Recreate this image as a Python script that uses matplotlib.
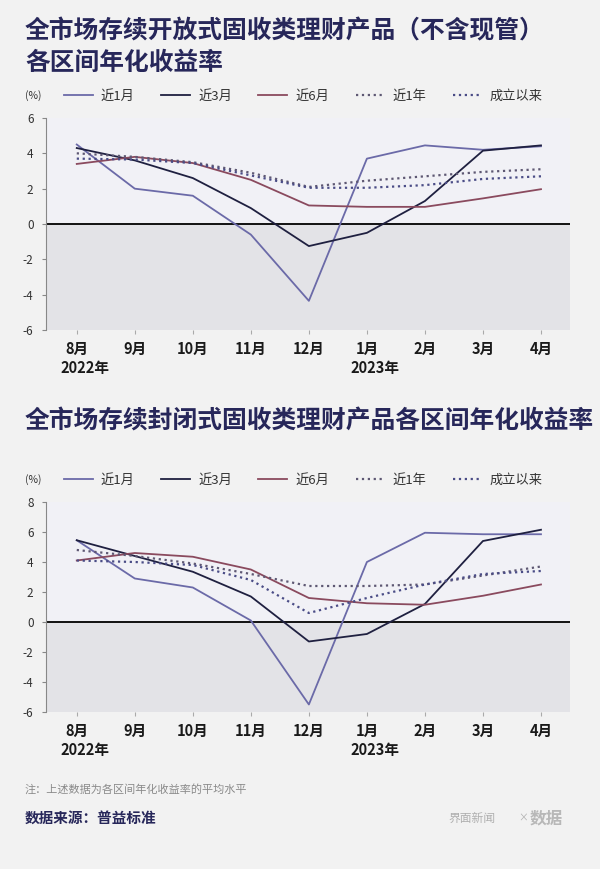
import matplotlib
matplotlib.use("Agg")
import matplotlib.pyplot as plt
import matplotlib.transforms as mtransforms

plt.rcParams['font.family'] = ['Noto Sans CJK SC', 'DejaVu Sans']

months = ['8月', '9月', '10月', '11月', '12月', '1月', '2月', '3月', '4月']
years = {0: '2022年', 5: '2023年'}
series_names = ['近1月', '近3月', '近6月', '近1年', '成立以来']

# open-ended products
open_1m = [4.5, 2.0, 1.6, -0.6, -4.35, 3.7, 4.45, 4.2, 4.4]
open_3m = [4.3, 3.6, 2.6, 0.9, -1.25, -0.5, 1.3, 4.15, 4.45]
open_6m = [3.4, 3.8, 3.45, 2.5, 1.05, 0.97, 0.97, 1.45, 1.97]
open_1y = [4.0, 3.8, 3.5, 2.9, 2.1, 2.45, 2.7, 2.95, 3.1]
open_all = [3.7, 3.65, 3.45, 2.75, 2.05, 2.05, 2.2, 2.55, 2.7]

# closed-ended products
closed_1m = [5.45, 2.9, 2.3, 0.1, -5.5, 4.0, 5.95, 5.85, 5.85]
closed_3m = [5.45, 4.4, 3.35, 1.7, -1.3, -0.8, 1.2, 5.4, 6.15]
closed_6m = [4.1, 4.6, 4.35, 3.5, 1.6, 1.25, 1.15, 1.75, 2.5]
closed_1y = [4.8, 4.4, 3.9, 3.2, 2.4, 2.4, 2.5, 3.1, 3.7]
closed_all = [4.1, 4.0, 3.8, 2.8, 0.6, 1.6, 2.5, 3.2, 3.4]

colors = ['#6b6aa8', '#1f2040', '#8a4a5e', '#5e5873', '#4a4c86']
styles = ['-', '-', '-', ':', ':']

BG = '#f2f2f2'
NAVY = '#27275a'

fig = plt.figure(figsize=(6, 8.69), dpi=100, facecolor=BG)


def draw_panel(rect, data, ylim, yticks, legend_y):
    ax = fig.add_axes(rect)
    ax.set_facecolor('#f1f1f6')
    x = list(range(len(months)))
    ax.axhspan(ylim[0], 0, color='#e3e3e7', zorder=0, lw=0)
    ax.axhline(0, color='#111111', lw=1.4, zorder=1)
    handles = []
    for vals, c, ls, name in zip(data, colors, styles, series_names):
        h, = ax.plot(x, vals, color=c, ls=ls, lw=1.3 if ls == '-' else 1.6,
                     label=name, zorder=3)
        handles.append(h)
    ax.set_xlim(-0.53, 8.5)
    ax.set_ylim(*ylim)
    ax.set_yticks(yticks)
    ax.set_yticklabels([str(v) for v in yticks], fontsize=8.5, color='#333333')
    ax.set_xticks(x)
    ax.set_xticklabels(months, fontsize=10.5, color='#1a1a1a', fontweight='bold')
    ax.tick_params(axis='y', length=3, color='#888888', pad=6)
    ax.tick_params(axis='x', length=3, color='#aaaaaa', pad=5)
    for s in ['top', 'right', 'bottom']:
        ax.spines[s].set_visible(False)
    ax.spines['left'].set_color('#888888')
    ax.spines['left'].set_linewidth(0.8)
    trans = mtransforms.blended_transform_factory(ax.transData, ax.transAxes)
    for i, y in years.items():
        ax.annotate(y, xy=(i, 0), xycoords=trans, xytext=(-12, -27),
                    textcoords='offset points', fontsize=10.5, fontweight='bold',
                    color='#1a1a1a', ha='left', va='center')
    fig.text(25 / 600, legend_y, '(%)', fontsize=7.5, color='#333333', va='center')
    fig.legend(handles=handles, loc='center left',
               bbox_to_anchor=(52 / 600, legend_y), ncol=5, frameon=False,
               fontsize=9.5, handlelength=2.2, handletextpad=0.6,
               columnspacing=2.0, labelcolor='#333333')
    return ax


# panel 1
fig.text(25 / 600, 1 - 31 / 869, '全市场存续开放式固收类理财产品（不含现管）',
         fontsize=17.8, fontweight='bold', color=NAVY, va='center')
fig.text(25 / 600, 1 - 63 / 869, '各区间年化收益率',
         fontsize=17.8, fontweight='bold', color=NAVY, va='center')
draw_panel([46 / 600, 1 - 330 / 869, 524 / 600, 212 / 869],
           [open_1m, open_3m, open_6m, open_1y, open_all],
           (-6, 6), [6, 4, 2, 0, -2, -4, -6], 1 - 96 / 869)

# panel 2
fig.text(25 / 600, 1 - 421 / 869, '全市场存续封闭式固收类理财产品各区间年化收益率',
         fontsize=17.8, fontweight='bold', color=NAVY, va='center')
draw_panel([46 / 600, 1 - 712 / 869, 524 / 600, 210 / 869],
           [closed_1m, closed_3m, closed_6m, closed_1y, closed_all],
           (-6, 8), [8, 6, 4, 2, 0, -2, -4, -6], 1 - 480 / 869)

# footer
fig.text(25 / 600, 1 - 789 / 869, '注：上述数据为各区间年化收益率的平均水平',
         fontsize=8, color='#8a8a8a', va='center')
fig.text(25 / 600, 1 - 818 / 869, '数据来源：普益标准',
         fontsize=10.5, fontweight='bold', color=NAVY, va='center')
fig.text(448 / 600, 1 - 818 / 869, '界面新闻', fontsize=8.5, color='#b0b0b0',
         va='center')
fig.text(518 / 600, 1 - 818 / 869, '×', fontsize=7, color='#b0b0b0', va='center')
fig.text(530 / 600, 1 - 818 / 869, '数据', fontsize=12, color='#b8b8b8',
         fontweight='bold', va='center')

fig.savefig('out.png', dpi=100, facecolor=BG)
